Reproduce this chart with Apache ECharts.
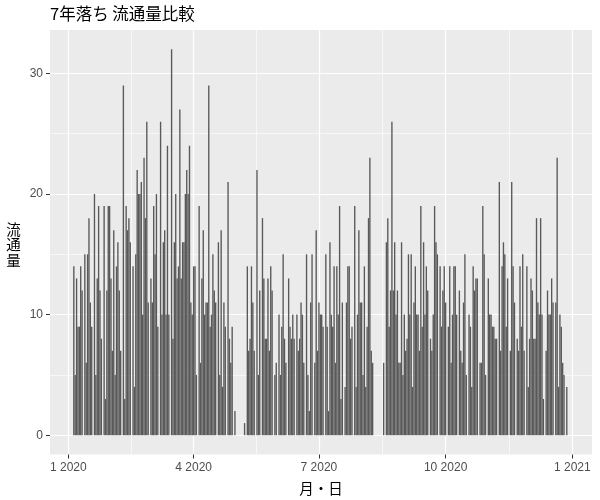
<!DOCTYPE html>
<html><head><meta charset="utf-8">
<script src="https://cdn.jsdelivr.net/npm/echarts@6/dist/echarts.min.js"></script>
<style>html,body{margin:0;padding:0;background:#fff}#c{width:600px;height:500px}</style>
</head><body><div id="c"></div>
<script>
// Daily counts for 2020, one array per month (index = day of month - 1), null = no data
const year = 2020;
const jan = [null,null,null,null,14,5,13,9,9,14,12,null,15,6,15,18,11,9,null,20,5,13,19,12,8,null,19,3,12,19,19];
const feb = [13,7,17,5,14,16,12,7,null,29,3,19,17,18,16,null,14,4,15,22,20,20,21,10,23,18,26,11,null];
const mar = [13,11,19,15,20,9,null,26,10,16,17,10,24,10,null,32,8,16,20,13,14,27,13,16,16,20,22,20,24,11,10];
const apr = [14,14,5,null,19,6,13,17,10,11,11,29,9,10,15,12,11,null,16,5,17,4,11,9,null,21,8,6,9,null];
const may = [2,null,null,null,null,null,null,1,null,14,7,8,14,11,7,null,22,5,12,null,18,13,8,8,13,7,14,12,null,5,6];
const jun = [null,10,5,9,15,8,6,null,13,9,8,10,8,null,10,7,8,11,10,6,null,15,5,2,11,15,null,6,17,7];
const jul = [11,10,10,9,null,15,9,2,16,10,9,14,6,14,10,19,3,11,null,4,11,14,14,8,9,null,19,4,10,17,11];
const aug = [11,5,14,4,9,18,23,7,6,null,null,null,null,null,null,null,6,null,16,18,9,12,26,12,16,10,12,6,6,16,5];
const sep = [10,7,8,15,10,15,4,11,14,10,10,7,19,9,16,10,14,12,null,8,7,10,19,16,15,null,14,9,12,14];
const oct = [11,null,9,14,6,10,14,14,10,null,12,7,6,11,15,5,null,10,9,4,14,12,13,13,null,6,6,19,15,5,null];
const nov = [13,10,10,9,9,8,8,null,21,7,14,16,15,9,13,null,7,21,14,11,null,8,7,14,9,15,7,null,14,4];
const dec = [8,13,12,8,8,18,11,10,18,10,3,null,7,12,10,10,13,11,null,11,23,4,10,9,6,5,null,4,null,null,null];

const yTicks = [0, 10, 20, 30];
const yMinorTicks = [5, 15, 25];
const xTickMonths = [[2020, 0], [2020, 3], [2020, 6], [2020, 9], [2021, 0]];

const titleText = '7年落ち 流通量比較';
const xName = '月・日';
const yNameChars = ['流', '通', '量'];

const months = [jan, feb, mar, apr, may, jun, jul, aug, sep, oct, nov, dec];
const data = [];
months.forEach((arr, m) => arr.forEach((v, i) => {
  if (v !== null) data.push([new Date(year, m, i + 1).getTime(), v]);
}));

const DAY = 86400000;
const t0 = new Date(year, 0, 1).getTime();
const xMin = t0 - 13.3 * DAY;
const xMax = t0 + 380.3 * DAY;
const maxVal = Math.max(...data.map(d => d[1]));
const yMin = -0.05 * maxVal, yMax = maxVal * 1.05;

const xMajor = xTickMonths.map(([y, m]) => new Date(y, m, 1).getTime());
const xMinor = xMajor.slice(1).map((t, i) => (t + xMajor[i]) / 2);

const numFont = '"Liberation Sans", Arial, sans-serif';
const cjkFont = '"Noto Sans CJK JP", sans-serif';

const yNameGraphics = yNameChars.map((ch, i) => ({
  type: 'text', x: 13.5, y: 229 + i * 15.5,
  style: {text: ch, fontSize: 14.5, fontFamily: cjkFont, fill: '#000000', textAlign: 'center', textVerticalAlign: 'middle'}
}));

const chart = echarts.init(document.getElementById('c'), null, {renderer: 'canvas'});
chart.setOption({
  animation: false,
  backgroundColor: '#ffffff',
  grid: {left: 50, right: 8, top: 30, bottom: 45.5, show: true, backgroundColor: '#EBEBEB', borderWidth: 0, containLabel: false},
  xAxis: [{
    type: 'value', min: xMin, max: xMax, position: 'bottom',
    axisLine: {show: false, onZero: false},
    axisTick: {show: true, customValues: xMajor, length: 4, lineStyle: {color: '#333333', width: 1}},
    axisLabel: {customValues: xMajor, color: '#4D4D4D', fontSize: 12, fontFamily: numFont, margin: 7,
      formatter: v => { const d = new Date(v); return (d.getMonth() + 1) + ' ' + d.getFullYear(); }},
    splitLine: {show: true, lineStyle: {color: '#FFFFFF', width: 1.2}}
  }, {
    type: 'value', min: xMin, max: xMax, position: 'top',
    axisLine: {show: false, onZero: false},
    axisTick: {show: false, customValues: xMinor},
    axisLabel: {show: false, customValues: xMinor},
    splitLine: {show: true, lineStyle: {color: '#FFFFFF', width: 0.6}}
  }],
  yAxis: [{
    type: 'value', min: yMin, max: yMax, position: 'left',
    axisLine: {show: false, onZero: false},
    axisTick: {show: true, customValues: yTicks, length: 4, lineStyle: {color: '#333333', width: 1}},
    axisLabel: {customValues: yTicks, color: '#4D4D4D', fontSize: 12, fontFamily: numFont, margin: 7},
    splitLine: {show: true, lineStyle: {color: '#FFFFFF', width: 1.2}}
  }, {
    type: 'value', min: yMin, max: yMax, position: 'right',
    axisLine: {show: false, onZero: false},
    axisTick: {show: false, customValues: yMinorTicks},
    axisLabel: {show: false, customValues: yMinorTicks},
    splitLine: {show: true, lineStyle: {color: '#FFFFFF', width: 0.6}}
  }],
  series: [{
    type: 'bar', xAxisIndex: 0, yAxisIndex: 0, data: data,
    barWidth: 1.36, itemStyle: {color: '#595959'}, silent: true
  }],
  graphic: [
    {type: 'text', left: 50, top: 5, style: {text: titleText, fontSize: 16.5, fontFamily: cjkFont, fill: '#000000'}},
    ...yNameGraphics,
    {type: 'text', x: 321, y: 488, style: {text: xName, fontSize: 14.5, fontFamily: cjkFont, fill: '#000000', textAlign: 'center', textVerticalAlign: 'middle'}}
  ]
});
</script></body></html>
